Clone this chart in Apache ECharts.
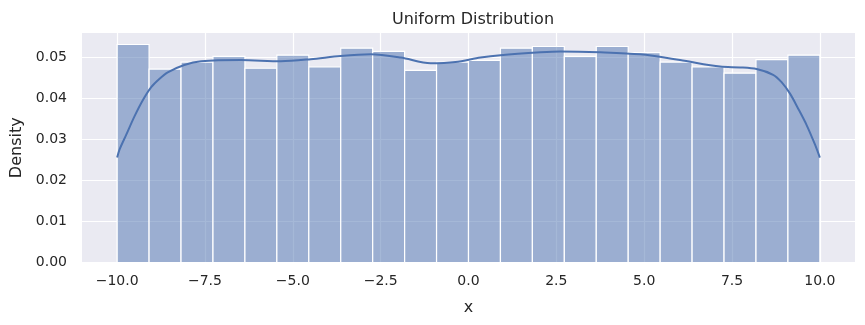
<!DOCTYPE html>
<html>
<head>
<meta charset="utf-8">
<script src="https://cdn.jsdelivr.net/npm/echarts@6/dist/echarts.min.js"></script>
<style>html,body{margin:0;padding:0;background:#fff}#c{width:865px;height:325px}</style>
</head>
<body>
<div id="c"></div>
<script>
// Histogram: 22 equal bins from -10 to 10
const binStart = -10;
const binEnd = 10;
const binDensity = [0.0532, 0.0472, 0.0489, 0.0503, 0.0474, 0.0506, 0.0477, 0.0523, 0.0515, 0.0469, 0.0489,
                    0.0493, 0.0523, 0.0527, 0.0503, 0.0527, 0.0512, 0.0489, 0.0477, 0.0462, 0.0495, 0.0506];
// KDE curve
const kdeX = [-10, -9.93, -9.74, -9.51, -9.27, -9.03, -8.80, -8.56, -8.09, -7.61, -6.48, -5.34, -4.49, -3.64, -2.78, -1.93, -1.08, -0.37, 0.34, 0.91, 2.05, 2.61, 3.75, 4.89, 6.02, 7.16, 7.73, 8.20, 8.67, 8.91, 9.15, 9.38, 9.62, 9.86, 10];
const kdeY = [0.0256, 0.0276, 0.0312, 0.0356, 0.0396, 0.0428, 0.0448, 0.0464, 0.0482, 0.0491, 0.0494, 0.0491, 0.0496, 0.0504, 0.0508, 0.0500, 0.0486, 0.0489, 0.0500, 0.0506, 0.0513, 0.0515, 0.0513, 0.0508, 0.0494, 0.0478, 0.0476, 0.0472, 0.0458, 0.0440, 0.0412, 0.0376, 0.0336, 0.0288, 0.0256];
const xTicks = [-10, -7.5, -5, -2.5, 0, 2.5, 5, 7.5, 10];
const yTicks = [0, 0.01, 0.02, 0.03, 0.04, 0.05];

const nb = binDensity.length;
const w = (binEnd - binStart) / nb;
const histData = binDensity.map((d, i) => [binStart + i * w, binStart + (i + 1) * w, d]);
const kdeData = kdeX.map((x, i) => [x, kdeY[i]]);

const txt = '#262626';
const font = 'DejaVu Sans';
const chart = echarts.init(document.getElementById('c'), null, {renderer: 'canvas'});
chart.setOption({
  animation: false,
  backgroundColor: '#ffffff',
  title: {
    text: 'Uniform Distribution',
    left: 468, top: 7, textAlign: 'center',
    textStyle: {color: txt, fontFamily: font, fontSize: 16, fontWeight: 'normal'}
  },
  grid: {left: 82, right: 10, top: 33, bottom: 62.5, show: true, backgroundColor: '#EAEAF2', borderWidth: 0},
  xAxis: {
    type: 'value', min: -11, max: 11,
    name: 'x', nameLocation: 'middle', nameGap: 37,
    nameTextStyle: {color: txt, fontFamily: font, fontSize: 16},
    axisLine: {show: false},
    axisTick: {show: false, customValues: xTicks},
    axisLabel: {customValues: xTicks, color: txt, fontFamily: font, fontSize: 14, margin: 12,
      formatter: v => (v < 0 ? '\u2212' : '') + Math.abs(v).toFixed(1)},
    splitLine: {show: true, lineStyle: {color: '#ffffff', width: 1.2}}
  },
  yAxis: {
    type: 'value', min: 0, max: 0.056,
    name: 'Density', nameLocation: 'middle', nameGap: 53,
    nameTextStyle: {color: txt, fontFamily: font, fontSize: 16},
    axisLine: {show: false},
    axisTick: {show: false, customValues: yTicks},
    axisLabel: {customValues: yTicks, color: txt, fontFamily: font, fontSize: 14, margin: 15,
      formatter: v => v.toFixed(2)},
    splitLine: {show: true, lineStyle: {color: '#ffffff', width: 1.2}}
  },
  series: [
    {
      type: 'custom',
      data: histData,
      encode: {x: [0, 1], y: 2},
      renderItem: function (params, api) {
        const p0 = api.coord([api.value(0), 0]);
        const p1 = api.coord([api.value(1), api.value(2)]);
        return {
          type: 'rect',
          shape: {x: p0[0], y: p1[1], width: p1[0] - p0[0], height: p0[1] - p1[1]},
          style: {fill: 'rgba(76,114,176,0.5)', stroke: '#ffffff', lineWidth: 1.2}
        };
      },
      z: 2
    },
    {
      type: 'line',
      data: kdeData,
      smooth: 0.3,
      showSymbol: false,
      lineStyle: {color: '#4C72B0', width: 2},
      z: 3
    }
  ]
});
</script>
</body>
</html>
